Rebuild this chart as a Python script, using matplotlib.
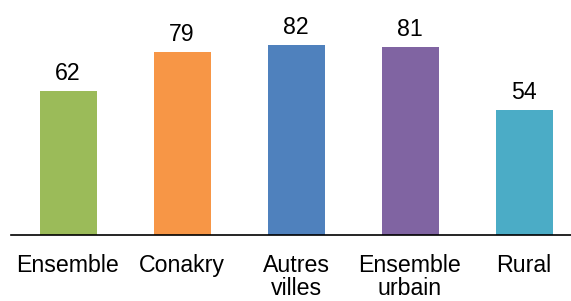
import matplotlib.pyplot as plt

# Data
categories = ['Ensemble', 'Conakry', 'Autres\nvilles', 'Ensemble\nurbain', 'Rural']
values = [62, 79, 82, 81, 54]
colors = ['#9BBB59', '#F79646', '#4F81BD', '#8064A2', '#4BACC6']

plt.rcParams['font.family'] = ['Liberation Sans', 'DejaVu Sans']

fig = plt.figure(figsize=(5.71, 3.01), dpi=100)
# axis spans a bit past the right edge, like the original crop
ax = fig.add_axes([11 / 571, 66 / 301, 570 / 571, 232 / 301])

x = range(len(values))
bars = ax.bar(x, values, width=0.5, color=colors)

for xi, v in zip(x, values):
    ax.text(xi, v + 2.6, str(v), ha='center', va='bottom', fontsize=16.7)

ax.set_xlim(-0.5, 4.5)
ax.set_ylim(0, 100)
ax.set_xticks(list(x))
ax.set_xticklabels(categories, fontsize=16.7, linespacing=1.02)
ax.tick_params(axis='x', length=0, pad=13.5)
ax.set_yticks([])

for side in ['top', 'right', 'left']:
    ax.spines[side].set_visible(False)
ax.spines['bottom'].set_color('black')
ax.spines['bottom'].set_linewidth(1.2)

fig.savefig('out.png', dpi=100)
